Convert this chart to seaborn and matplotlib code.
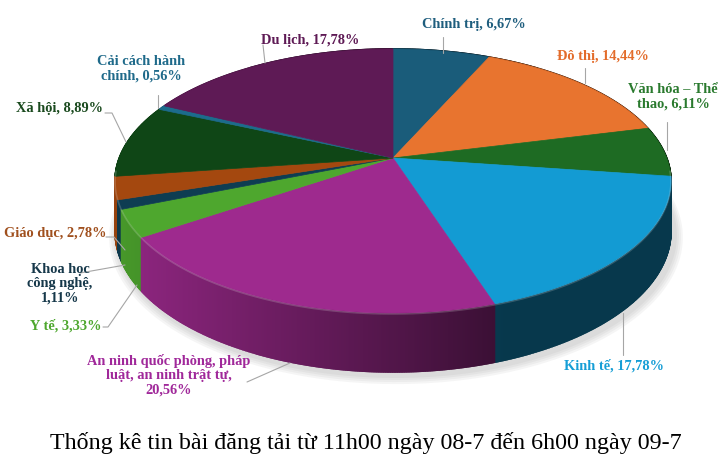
import numpy as np
import matplotlib.pyplot as plt
import seaborn as sns
from matplotlib.patches import Polygon

# Data (share of articles, %), clockwise from 12 o'clock
categories = ['Chính trị', 'Đô thị', 'Văn hóa – Thể\nthao', 'Kinh tế',
              'An ninh quốc phòng, pháp\nluật, an ninh trật tự', 'Y tế',
              'Khoa học\ncông nghệ', 'Giáo dục', 'Xã hội',
              'Cải cách hành\nchính', 'Du lịch']
shares = [6.67, 14.44, 6.11, 17.78, 20.56, 3.33, 1.11, 2.78, 8.89, 0.56, 17.78]
value_on_new_line = [False, False, False, False, True, False, True,
                     False, False, False, False]
title = 'Thống kê tin bài đăng tải từ 11h00 ngày 08-7 đến 6h00 ngày 09-7'

slice_colors = ['#1A5C7A', '#E8742F', '#1E6B23', '#139BD3', '#9E2A8E',
                '#4EA72E', '#0E3D52', '#A4480F', '#0F4616', '#1C6C8C',
                '#5E1A55']
label_colors = ['#1F5E7E', '#E36C2B', '#2A7A2E', '#169ED6', '#A0289A',
                '#4EA72E', '#16384A', '#A0501E', '#1A4A1E', '#1F6A8A',
                '#5E1A55']

# label layout (pixels) and leader lines
label_pos = [(474, 24), (603, 56), (673, 97), (614, 366), (169, 375),
             (66, 326), (60, 284), (55, 233), (60, 108), (141, 69),
             (310, 40)]
leaders = [[(443, 37), (443, 53)],
           [(585, 68), (585, 83)],
           [(667, 122), (667, 150)],
           [(623, 313), (623, 355)],
           [(247, 382), (290, 363)],
           [(103, 327), (108, 327), (137, 285)],
           [(80, 273), (125, 265)],
           [(106, 237), (114, 237), (125, 250)],
           [(105, 113), (112, 113), (126, 142)],
           [(158, 95), (158, 108)],
           [(263, 45), (265, 63)]]

sns.set_theme(style='white')
plt.rcParams['font.family'] = ['Liberation Serif', 'DejaVu Serif']

# perspective view of the pie disc
cx, cy = 393, 158
sx, sy, persp, thick = 273.7, 128, 0.174, 48.7


def project(theta, depth=0.0):
    X, Y = np.cos(theta), np.sin(theta)
    w = 1 + persp * Y
    return cx + sx * X / w, cy + (-sy * Y + thick * depth) / w


def darker(color, f):
    r, g, b = plt.matplotlib.colors.to_rgb(color)
    return (r * f, g * f, b * f)


fig = plt.figure(figsize=(7.21, 4.74), dpi=100)
ax = fig.add_axes([0, 0, 1, 1])
ax.set_xlim(0, 721)
ax.set_ylim(474, 0)
ax.axis('off')

frac = np.concatenate([[0], np.cumsum(shares)]) / np.sum(shares)
angles = np.pi / 2 - 2 * np.pi * frac

# soft shadow under the pie
full = np.linspace(0, 2 * np.pi, 200)
bu, bv = project(full, 1.0)
for grow in [9, 7, 5, 3]:
    pts = np.column_stack([cx + (bu - cx) * (1 + grow / 280) + 3,
                           cy + (bv - cy) * (1 + grow / 210) + 3])
    ax.add_patch(Polygon(pts, closed=True, color='#777777', alpha=0.07, lw=0))

# side walls, drawn far to near
segments = []
for i in range(len(shares)):
    th = np.linspace(angles[i], angles[i + 1], max(3, int(shares[i] * 12)))
    for a, b in zip(th[:-1], th[1:]):
        segments.append((np.sin((a + b) / 2), a, b, slice_colors[i]))
segments.sort(key=lambda s: -s[0])
for _, a, b, col in segments:
    tu, tv = project(np.array([a, b]), 0.0)
    du, dv = project(np.array([b, a]), 1.0)
    t = (np.mean(tu) - 115) / 555
    shade = darker(col, max(0.36, 0.92 - 0.8 * t))
    pts = np.column_stack([np.r_[tu, du], np.r_[tv, dv]])
    ax.add_patch(Polygon(pts, closed=True, facecolor=shade, edgecolor=shade, lw=1.2))

# top face wedges
for i in range(len(shares)):
    th = np.linspace(angles[i], angles[i + 1], max(4, int(shares[i] * 6)))
    u, v = project(th, 0.0)
    pts = np.column_stack([np.r_[cx, u], np.r_[cy, v]])
    ax.add_patch(Polygon(pts, closed=True, facecolor=slice_colors[i],
                         edgecolor=slice_colors[i], lw=0.5))

# faint highlight on the front rim
rim = np.linspace(np.pi * 1.03, np.pi * 1.97, 120)
ru, rv = project(rim, 0.0)
ax.plot(ru, rv + 1, color='white', lw=1.2, alpha=0.18)

# labels and leader lines
for i, name in enumerate(categories):
    value = f'{shares[i]:.2f}'.replace('.', ',') + '%'
    text = name + (',\n' if value_on_new_line[i] else ', ') + value
    x, y = label_pos[i]
    ax.text(x, y, text, ha='center', va='center', fontsize=10.4,
            fontweight='bold', color=label_colors[i], linespacing=1.15)
    line = np.array(leaders[i])
    ax.plot(line[:, 0], line[:, 1], color='#A6A6A6', lw=0.8)

ax.text(366, 443, title, ha='center', va='center', fontsize=17.3, color='black')

fig.savefig('out.png', dpi=100)
